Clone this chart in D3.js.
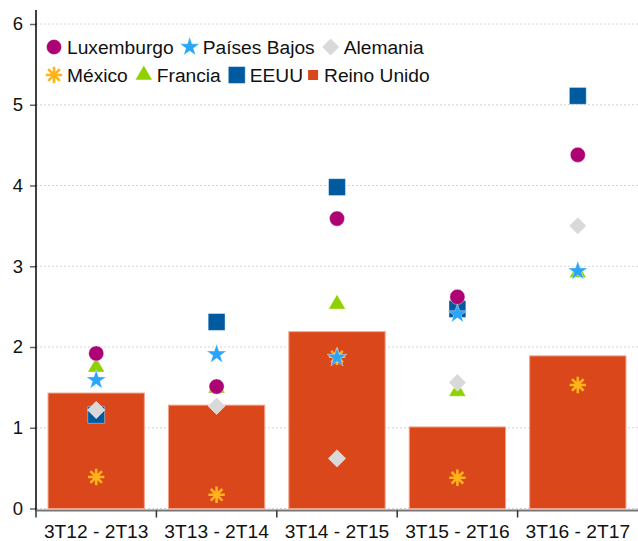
<!DOCTYPE html>
<html>
<head>
<meta charset="utf-8">
<script src="https://cdn.jsdelivr.net/npm/d3@7"></script>
<style>
  html, body { margin: 0; padding: 0; background: #fff; }
  svg { display: block; font-family: "Liberation Sans", Arial, sans-serif; }
</style>
</head>
<body>
<div id="chart"></div>
<script>
// Categories (periods)
const periods = ['3T12 - 2T13', '3T13 - 2T14', '3T14 - 2T15', '3T15 - 2T16', '3T16 - 2T17'];

// Bars
const reinoUnido = [1.43, 1.28, 2.19, 1.01, 1.89];

// Point series
const luxemburgo = [1.92, 1.51, 3.59, 2.62, 4.38];
const paisesBajos = [1.59, 1.91, 1.87, 2.41, 2.94];
const alemania = [1.22, 1.27, 0.62, 1.56, 3.50];
const mexico = [0.39, 0.17, 1.88, 0.38, 1.53];
const francia = [1.75, 1.49, 2.53, 1.45, 2.92];
const eeuu = [1.16, 2.31, 3.98, 2.47, 5.11];

const yTicks = [0, 1, 2, 3, 4, 5, 6];

const W = 638, H = 541;
const LEFT = 36, RIGHT = 638, TOP = 24, BOTTOM = 508.5;
const FONT = 19.2;

// custom 8-arm asterisk
const asterisk = {
    draw(ctx, size) {
        const r = Math.sqrt(size) / 2;
        const d = r * Math.SQRT1_2;
        ctx.moveTo(0, -r); ctx.lineTo(0, r);
        ctx.moveTo(-r, 0); ctx.lineTo(r, 0);
        ctx.moveTo(-d, -d); ctx.lineTo(d, d);
        ctx.moveTo(-d, d); ctx.lineTo(d, -d);
    }
};

// draw order: reverse of legend (last drawn is on top)
const series = [
    { name: 'EEUU', values: eeuu, color: '#005aa0', type: d3.symbolSquare, size: 285 },
    { name: 'Francia', values: francia, color: '#8fd100', type: d3.symbolTriangle, size: 125 },
    { name: 'México', values: mexico, color: '#ffb21a', type: asterisk, size: 270, stroke: true },
    { name: 'Alemania', values: alemania, color: '#d9d9d9', type: d3.symbolSquare, size: 150, rotate: 45 },
    { name: 'Países Bajos', values: paisesBajos, color: '#2aa5f7', type: d3.symbolStar, size: 120 },
    { name: 'Luxemburgo', values: luxemburgo, color: '#ad0273', type: d3.symbolCircle, size: 180 }
];
const byName = Object.fromEntries(series.map(s => [s.name, s]));

const svg = d3.select('#chart').append('svg')
    .attr('width', W)
    .attr('height', H);

const x = d3.scaleBand().domain(periods).range([LEFT, RIGHT]).paddingInner(0.2).paddingOuter(0.1);
const y = d3.scaleLinear().domain([0, 6]).range([BOTTOM, TOP]);

// Gridlines
svg.append('g')
    .selectAll('line')
    .data(yTicks)
    .join('line')
    .attr('x1', LEFT)
    .attr('x2', RIGHT)
    .attr('y1', d => y(d))
    .attr('y2', d => y(d))
    .attr('stroke', '#d4d4d4')
    .attr('stroke-dasharray', '2,2');

// Bars
svg.append('g')
    .selectAll('rect')
    .data(reinoUnido)
    .join('rect')
    .attr('x', (d, i) => x(periods[i]))
    .attr('width', x.bandwidth())
    .attr('y', d => y(d))
    .attr('height', d => y(0) - y(d))
    .attr('fill', '#d9471a')
    .attr('stroke', '#f2a48c')
    .attr('stroke-width', 1);

// Markers
function symbolPath(s) {
    return d3.symbol().type(s.type).size(s.size)();
}
function drawMarker(g, s, cx, cy) {
    const p = g.append('path')
        .attr('d', symbolPath(s))
        .attr('transform', `translate(${cx},${cy})` + (s.rotate ? ` rotate(${s.rotate})` : ''));
    if (s.stroke) {
        p.attr('fill', 'none').attr('stroke', s.color).attr('stroke-width', 2.6);
    } else {
        p.attr('fill', s.color).attr('stroke', '#fff').attr('stroke-opacity', 0.5).attr('stroke-width', 0.8);
    }
}

const markers = svg.append('g');
series.forEach(s => {
    s.values.forEach((v, i) => {
        drawMarker(markers, s, x(periods[i]) + x.bandwidth() / 2, y(v));
    });
});

// Y axis
const yAxis = svg.append('g')
    .attr('transform', `translate(${LEFT},0)`)
    .call(d3.axisLeft(y).tickValues(yTicks).tickFormat(d3.format('d')).tickSize(6).tickPadding(7));
yAxis.select('.domain').remove();
yAxis.selectAll('.tick line').attr('stroke', '#666').attr('stroke-width', 1.5);
yAxis.selectAll('.tick text').attr('font-size', 18.5).attr('fill', '#111')
    .attr('font-family', '"Liberation Sans", Arial, sans-serif');
svg.append('line')
    .attr('x1', LEFT).attr('x2', LEFT)
    .attr('y1', 10).attr('y2', 511)
    .attr('stroke', '#000').attr('stroke-width', 1.5);

// X axis
const xAxisY = 510.5;
svg.append('line')
    .attr('x1', LEFT).attr('x2', RIGHT)
    .attr('y1', xAxisY).attr('y2', xAxisY)
    .attr('stroke', '#777').attr('stroke-width', 2);
svg.append('g')
    .selectAll('line')
    .data(periods)
    .join('line')
    .attr('x1', (d, i) => LEFT + (RIGHT - LEFT) * i / periods.length)
    .attr('x2', (d, i) => LEFT + (RIGHT - LEFT) * i / periods.length)
    .attr('y1', xAxisY)
    .attr('y2', xAxisY + 7)
    .attr('stroke', '#333')
    .attr('stroke-width', 1.5);
svg.append('g')
    .selectAll('text')
    .data(periods)
    .join('text')
    .attr('x', d => x(d) + x.bandwidth() / 2)
    .attr('y', 538)
    .attr('text-anchor', 'middle')
    .attr('font-size', FONT)
    .attr('fill', '#111')
    .text(d => d);

// Legend
const legendRows = [
    ['Luxemburgo', 'Países Bajos', 'Alemania'],
    ['México', 'Francia', 'EEUU', 'Reino Unido']
];
const legend = svg.append('g');
legendRows.forEach((row, r) => {
    const cy = 47 + r * 28;
    let cx = 54;
    row.forEach((name, k) => {
        const s = byName[name];
        if (s) {
            drawMarker(legend, s, cx, cy);
        } else {
            legend.append('rect')
                .attr('x', cx - 5).attr('y', cy - 5)
                .attr('width', 10).attr('height', 10)
                .attr('fill', '#d9471a');
        }
        const tx = cx + (s ? 13 : 11);
        const t = legend.append('text')
            .attr('x', tx)
            .attr('y', cy + 7)
            .attr('font-size', FONT)
            .attr('fill', '#111')
            .text(name);
        const end = tx + t.node().getComputedTextLength();
        const next = row[k + 1];
        cx = end + (next && !byName[next] ? 10 : 16);
    });
});
</script>
</body>
</html>
